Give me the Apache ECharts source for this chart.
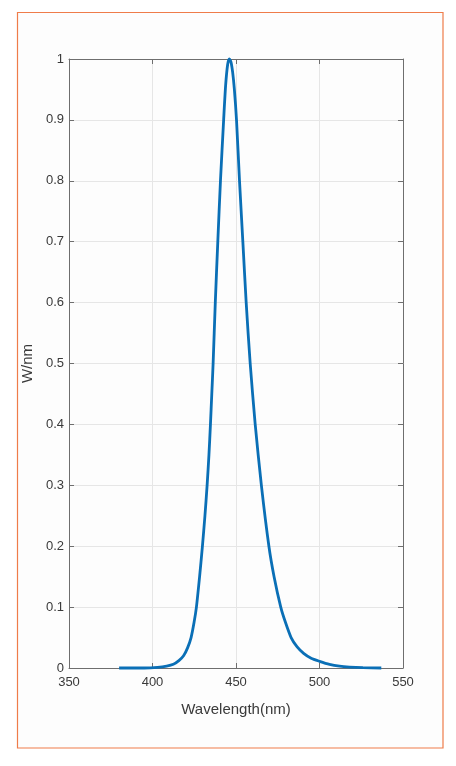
<!DOCTYPE html>
<html>
<head>
<meta charset="utf-8">
<script src="https://cdn.jsdelivr.net/npm/echarts@6/dist/echarts.min.js"></script>
<style>
  html, body { margin: 0; padding: 0; background: #fff; }
  #chart { width: 456px; height: 766px; }
</style>
</head>
<body>
<div id="chart"></div>
<script>
// spectrum
const wavelength = [380, 395, 403, 408.5, 412.5, 415.8, 418.6, 421, 423.1, 424.9, 426.3, 428.2, 429.9, 431.4, 432.7, 433.8, 434.7, 435.5, 436.3, 437.6, 439.1, 440.7, 442.6, 443.8, 445, 446, 447, 448, 449, 450.3, 452.1, 454.1, 456.1, 458.5, 461.5, 465.2, 469.7, 472.8, 476.8, 479.6, 483, 486.5, 490.5, 495, 500, 506, 512, 518, 526, 537];
const power = [0, 0, 0.001, 0.003, 0.006, 0.012, 0.02, 0.033, 0.05, 0.075, 0.1, 0.15, 0.2, 0.25, 0.3, 0.35, 0.4, 0.45, 0.5, 0.6, 0.7, 0.8, 0.9, 0.957, 0.991, 1.0, 0.995, 0.978, 0.951, 0.9, 0.8, 0.7, 0.6, 0.5, 0.4, 0.3, 0.2, 0.15, 0.1, 0.075, 0.05, 0.035, 0.024, 0.016, 0.011, 0.006, 0.003, 0.0015, 0.0005, 0];

const xTicks = {min: 350, max: 550, step: 50};
const yTicks = {min: 0, max: 1, step: 0.1};

const boxColor = '#6e6e6e';
const labelColor = '#3a3a3a';

var myChart = echarts.init(document.getElementById('chart'));

const points = wavelength.map((w, i) => [w, power[i]]);

const boxAxis = (extra) => Object.assign({
  axisLine: {show: true, onZero: false, lineStyle: {color: boxColor, width: 1}},
  axisTick: {show: true, inside: true, length: 5, lineStyle: {color: boxColor}},
  axisLabel: {show: false},
  splitLine: {show: false}
}, extra);

myChart.setOption({
  animation: false,
  textStyle: {fontFamily: 'Arial, "Liberation Sans", sans-serif'},
  graphic: [{
    type: 'rect',
    shape: {x: 17.5, y: 12.5, width: 425.5, height: 735.5},
    style: {fill: '#fdfdfd', stroke: '#ef7c4a', lineWidth: 1.2},
    z: -10
  }],
  grid: {left: 69, right: 53, top: 59, bottom: 98, containLabel: false},
  xAxis: [
    boxAxis({
      type: 'value', position: 'bottom',
      min: xTicks.min, max: xTicks.max, interval: xTicks.step,
      name: 'Wavelength(nm)', nameLocation: 'middle', nameGap: 34,
      nameTextStyle: {fontSize: 15, color: labelColor},
      axisLabel: {show: true, fontSize: 13, color: labelColor, margin: 8},
      splitLine: {show: true, lineStyle: {color: '#e6e6e6', width: 1}}
    }),
    boxAxis({
      type: 'value', position: 'top',
      min: xTicks.min, max: xTicks.max, interval: xTicks.step
    })
  ],
  yAxis: [
    boxAxis({
      type: 'value', position: 'left',
      min: yTicks.min, max: yTicks.max, interval: yTicks.step,
      name: 'W/nm', nameLocation: 'middle', nameGap: 34,
      nameTextStyle: {fontSize: 15, color: labelColor},
      axisLabel: {show: true, fontSize: 13, color: labelColor, margin: 5},
      splitLine: {show: true, lineStyle: {color: '#e6e6e6', width: 1}}
    }),
    boxAxis({
      type: 'value', position: 'right',
      min: yTicks.min, max: yTicks.max, interval: yTicks.step
    })
  ],
  series: [{
    type: 'line',
    data: points,
    showSymbol: false,
    smooth: 0.25,
    clip: false,
    lineStyle: {color: '#0a6fb6', width: 2.8},
    z: 5
  }]
});
</script>
</body>
</html>
